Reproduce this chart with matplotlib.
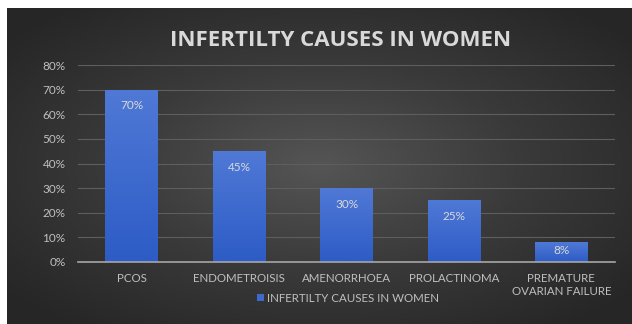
import numpy as np
import matplotlib
matplotlib.use('Agg')
import matplotlib.pyplot as plt
from matplotlib.colors import LinearSegmentedColormap

# data
categories = ["PCOS", "ENDOMETROISIS", "AMENORRHOEA", "PROLACTINOMA", "PREMATURE\nOVARIAN FAILURE"]
values = [0.70, 0.45, 0.30, 0.25, 0.08]
series_name = "INFERTILTY CAUSES IN WOMEN"
title = "INFERTILTY CAUSES IN WOMEN"
yticks = [0, 0.1, 0.2, 0.3, 0.4, 0.5, 0.6, 0.7, 0.8]

FONT = ["Lato", "DejaVu Sans"]
TXT = "#d9d9d9"
TICK = "#bfbfbf"

W, H = 632, 324
fig = plt.figure(figsize=(W / 100, H / 100), dpi=100)
fig.patch.set_facecolor("white")

# dark radial gradient background
bg = fig.add_axes([7 / W, 0, (W - 7) / W, (H - 8) / H])
bg.set_axis_off()
yy, xx = np.mgrid[-1:1:200j, -1:1:400j]
r = np.sqrt(xx ** 2 + yy ** 2)
bg_cmap = LinearSegmentedColormap.from_list("bg", ["#555555", "#3a3a3a", "#262626"])
bg.imshow(np.clip(r / 1.3, 0, 1), cmap=bg_cmap, vmin=0, vmax=1, aspect="auto",
          extent=(0, 1, 0, 1))
bg.set_xlim(0, 1)
bg.set_ylim(0, 1)

ax = fig.add_axes([78 / W, 62 / H, 537 / W, 197 / H])
ax.patch.set_alpha(0)
x = np.arange(len(categories))
bars = ax.bar(x, values, width=0.49, color="#3d68cc", zorder=3, label=series_name)

# vertical gradient inside each bar
bar_cmap = LinearSegmentedColormap.from_list("bar", ["#2d5cc6", "#5079d6"])
grad = np.linspace(0, 1, 100).reshape(-1, 1)
for b in bars:
    x0, w, h = b.get_x(), b.get_width(), b.get_height()
    im = ax.imshow(grad, cmap=bar_cmap, origin="lower", aspect="auto",
                   extent=(x0, x0 + w, 0, h), zorder=3.5)
    im.set_clip_path(b)

for xi, v in zip(x, values):
    ax.text(xi, max(v - 0.065, v * 0.6), f"{v:.0%}", ha="center", va="center",
            color=TXT, fontsize=8.5, family=FONT, zorder=5)

ax.set_xlim(-0.5, len(categories) - 0.5)
ax.set_ylim(0, 0.8)
ax.set_yticks(yticks)
ax.set_yticklabels([f"{t:.0%}" for t in yticks])
ax.set_xticks(x)
ax.set_xticklabels(categories, linespacing=1.25)
ax.grid(axis="y", color="#5e5e5e", linewidth=0.8, zorder=0)
ax.set_axisbelow(True)
for s in ["top", "right", "left"]:
    ax.spines[s].set_visible(False)
ax.spines["bottom"].set_color("#a6a6a6")
ax.spines["bottom"].set_linewidth(1.2)
ax.spines["bottom"].set_zorder(4)
ax.tick_params(axis="both", length=0, colors=TICK, labelsize=8.3)
ax.tick_params(axis="y", labelsize=8.5, pad=9)
ax.tick_params(axis="x", pad=8)
for lab in ax.get_xticklabels() + ax.get_yticklabels():
    lab.set_family(FONT)
    lab.set_color(TICK)
for lab in ax.get_xticklabels():
    lab.set_verticalalignment("top")

leg = fig.legend(handles=[bars[0]], labels=[series_name], loc="center",
                 bbox_to_anchor=(348 / W, 1 - 298 / H), frameon=False,
                 handlelength=0.6, handleheight=0.6, handletextpad=0.3,
                 prop={"family": FONT, "size": 8.3})
for t in leg.get_texts():
    t.set_color(TICK)

fig.text(341 / W, 1 - 40 / H, title, ha="center", va="center", color=TXT,
         fontsize=16, fontweight="bold", family=["Open Sans", "DejaVu Sans"])

plt.savefig("out.png", dpi=100)
plt.close()
